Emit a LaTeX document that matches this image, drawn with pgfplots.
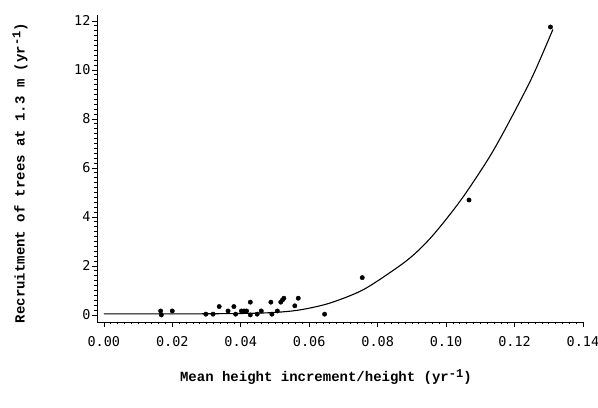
\documentclass[border=0pt]{standalone}
\usepackage{pgfplots}
\pgfplotsset{compat=1.18}
\usetikzlibrary{calc}
\usepackage{fontspec}
\setmainfont{Liberation Mono}
\newfontfamily\tickfont{DejaVu Sans Mono}
\newcommand{\inv}{\raisebox{0.55ex}{\fontsize{12}{12}\selectfont -1}}
\begin{document}
\begin{tikzpicture}
\begin{axis}[
  name=ax,
  scale only axis,
  width=486pt, height=307pt,
  xmin=-0.002, xmax=0.14,
  ymin=-0.29, ymax=12.24,
  axis lines*=left,
  axis line style={line width=0.7pt},
  tick align=outside,
  xtick={0,0.02,...,0.14},
  ytick={0,2,...,12},
  minor x tick num=9,
  minor y tick num=9,
  major tick length=5pt,
  minor tick length=2.5pt,
  tick style={line width=0.6pt, black},
  /pgf/number format/assume math mode=true,
  xticklabel style={/pgf/number format/.cd, fixed, fixed zerofill, precision=2, /tikz/.cd, yshift=-6pt},
  yticklabel style={/pgf/number format/.cd, fixed, precision=0, /tikz/.cd, xshift=2pt},
  ticklabel style={font=\tickfont\fontsize{13.5}{14}\selectfont},
  xlabel={Mean height increment/height (yr\inv)},
  ylabel={Recruitment of trees at 1.3 m (yr\inv)},
  every axis x label/.style={at={(axis description cs:0.471,0)}, anchor=center,
    yshift=-55pt, font=\bfseries\fontsize{14}{16}\selectfont},
  every axis y label/.style={at={(axis description cs:0,0.485)}, anchor=center,
    xshift=-77pt, rotate=90, font=\bfseries\fontsize{14}{16}\selectfont},
  clip=false,
]
% fitted curve
\addplot[black, line width=1.1pt, smooth, tension=0.5] coordinates {
(0.000,0.04)(0.020,0.04)(0.035,0.05)(0.045,0.07)(0.052,0.12)(0.058,0.22)
(0.066,0.48)(0.0757,1.02)(0.0855,1.91)(0.0905,2.45)(0.0952,3.10)(0.1000,3.90)
(0.1054,4.90)(0.1127,6.45)(0.1185,7.90)(0.1253,9.75)(0.1312,11.65)
};
% observations
\addplot[only marks, mark=*, mark size=2.2pt, black] coordinates {
(0.0166,0.16)(0.0168,0.00)(0.0200,0.16)(0.0298,0.03)(0.0319,0.03)(0.0337,0.34)
(0.0363,0.16)(0.0380,0.34)(0.0385,0.03)(0.0402,0.16)(0.0410,0.16)(0.0417,0.16)
(0.0428,0.52)(0.0428,0.00)(0.0448,0.03)(0.0460,0.16)(0.0488,0.52)(0.0491,0.03)
(0.0507,0.16)(0.0517,0.52)(0.0522,0.61)(0.0526,0.68)(0.0558,0.37)(0.0568,0.68)
(0.0645,0.03)(0.0755,1.52)(0.1067,4.69)(0.1305,11.75)
};
\end{axis}
\pgfresetboundingbox
\path ($(ax.south west)+(-97pt,-86pt)$) rectangle ($(ax.north east)+(15pt,15pt)$);
\end{tikzpicture}
\end{document}
